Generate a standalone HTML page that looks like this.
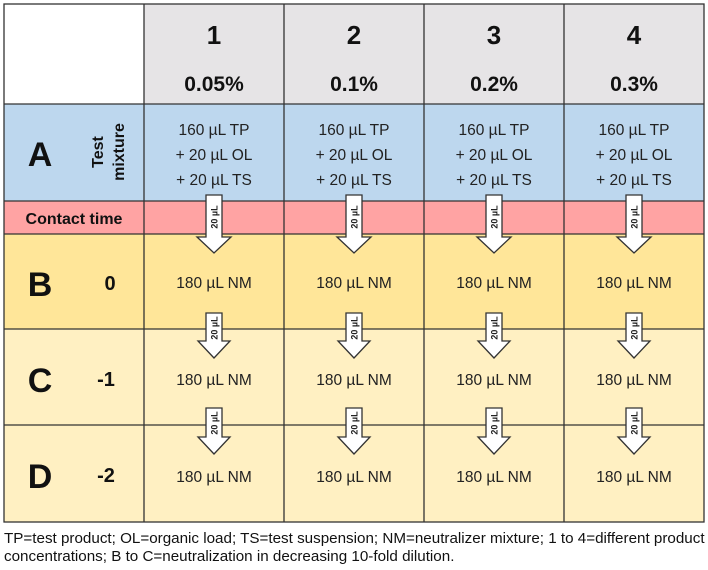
<!DOCTYPE html>
<html><head><style>body{margin:0;background:#fff}svg{display:block}</style></head><body>
<svg width="708" height="570" xmlns="http://www.w3.org/2000/svg" font-family="'Liberation Sans',sans-serif">
<rect x="4" y="4" width="140" height="100" fill="#fff"/>
<rect x="144" y="4" width="560" height="100" fill="#e6e4e6"/>
<rect x="4" y="104" width="700" height="97" fill="#bdd7ee"/>
<rect x="4" y="201" width="700" height="33" fill="#ffa3a3"/>
<rect x="4" y="234" width="700" height="95" fill="#ffe699"/>
<rect x="4" y="329" width="700" height="193" fill="#fff0c2"/>
<g stroke="#333" stroke-width="1.3" fill="none">
<rect x="4" y="4" width="700" height="518"/>
<line x1="4" y1="104" x2="704" y2="104"/><line x1="4" y1="201" x2="704" y2="201"/>
<line x1="4" y1="234" x2="704" y2="234"/><line x1="4" y1="329" x2="704" y2="329"/>
<line x1="4" y1="425" x2="704" y2="425"/>
<line x1="144" y1="4" x2="144" y2="522"/><line x1="284" y1="4" x2="284" y2="522"/>
<line x1="424" y1="4" x2="424" y2="522"/><line x1="564" y1="4" x2="564" y2="522"/>
</g>
<g font-weight="bold" fill="#111" text-anchor="middle">
<text x="40" y="166" font-size="34">A</text>
<text x="40" y="296" font-size="34">B</text>
<text x="40" y="392" font-size="34">C</text>
<text x="40" y="488" font-size="34">D</text>
<text x="110" y="290" font-size="20">0</text>
<text x="106" y="386" font-size="20">-1</text>
<text x="106" y="482" font-size="20">-2</text>
<text x="74" y="224" font-size="16">Contact time</text>
<text transform="translate(103,152) rotate(-90)" font-size="16">Test</text>
<text transform="translate(124,152) rotate(-90)" font-size="16">mixture</text>
</g>
<g font-weight="bold" fill="#111" text-anchor="middle" font-size="26">
<text x="214" y="44">1</text><text x="354" y="44">2</text><text x="494" y="44">3</text><text x="634" y="44">4</text>
</g>
<g font-weight="bold" fill="#111" text-anchor="middle" font-size="21">
<text x="214" y="91">0.05%</text><text x="354" y="91">0.1%</text><text x="494" y="91">0.2%</text><text x="634" y="91">0.3%</text>
</g>
<g fill="#222" text-anchor="middle" font-size="15.5">
<g id="t1"><text x="214" y="135">160 µL TP</text><text x="214" y="160">+ 20 µL OL</text><text x="214" y="185">+ 20 µL TS</text>
<text x="214" y="288">180 µL NM</text><text x="214" y="385">180 µL NM</text><text x="214" y="482">180 µL NM</text>
<path d="M206 195H222V237H231L214 253L197 237H206Z" fill="#fff" stroke="#333" stroke-width="1.3"/>
<path d="M206 313H222V341H230L214 358L198 341H206Z" fill="#fff" stroke="#333" stroke-width="1.3"/>
<path d="M206 408H222V437H230L214 454L198 437H206Z" fill="#fff" stroke="#333" stroke-width="1.3"/>
<g font-size="9" font-weight="bold" fill="#222">
<text transform="translate(217.5,217) rotate(-90)">20 µL</text>
<text transform="translate(217.5,328) rotate(-90)">20 µL</text>
<text transform="translate(217.5,423) rotate(-90)">20 µL</text>
</g></g>
<use href="#t1" x="140"/><use href="#t1" x="280"/><use href="#t1" x="420"/>
</g>
<g font-size="15.2" fill="#111">
<text x="4" y="543">TP=test product; OL=organic load; TS=test suspension; NM=neutralizer mixture; 1 to 4=different product</text>
<text x="4" y="561">concentrations; B to C=neutralization in decreasing 10-fold dilution.</text>
</g>
</svg>
</body></html>
